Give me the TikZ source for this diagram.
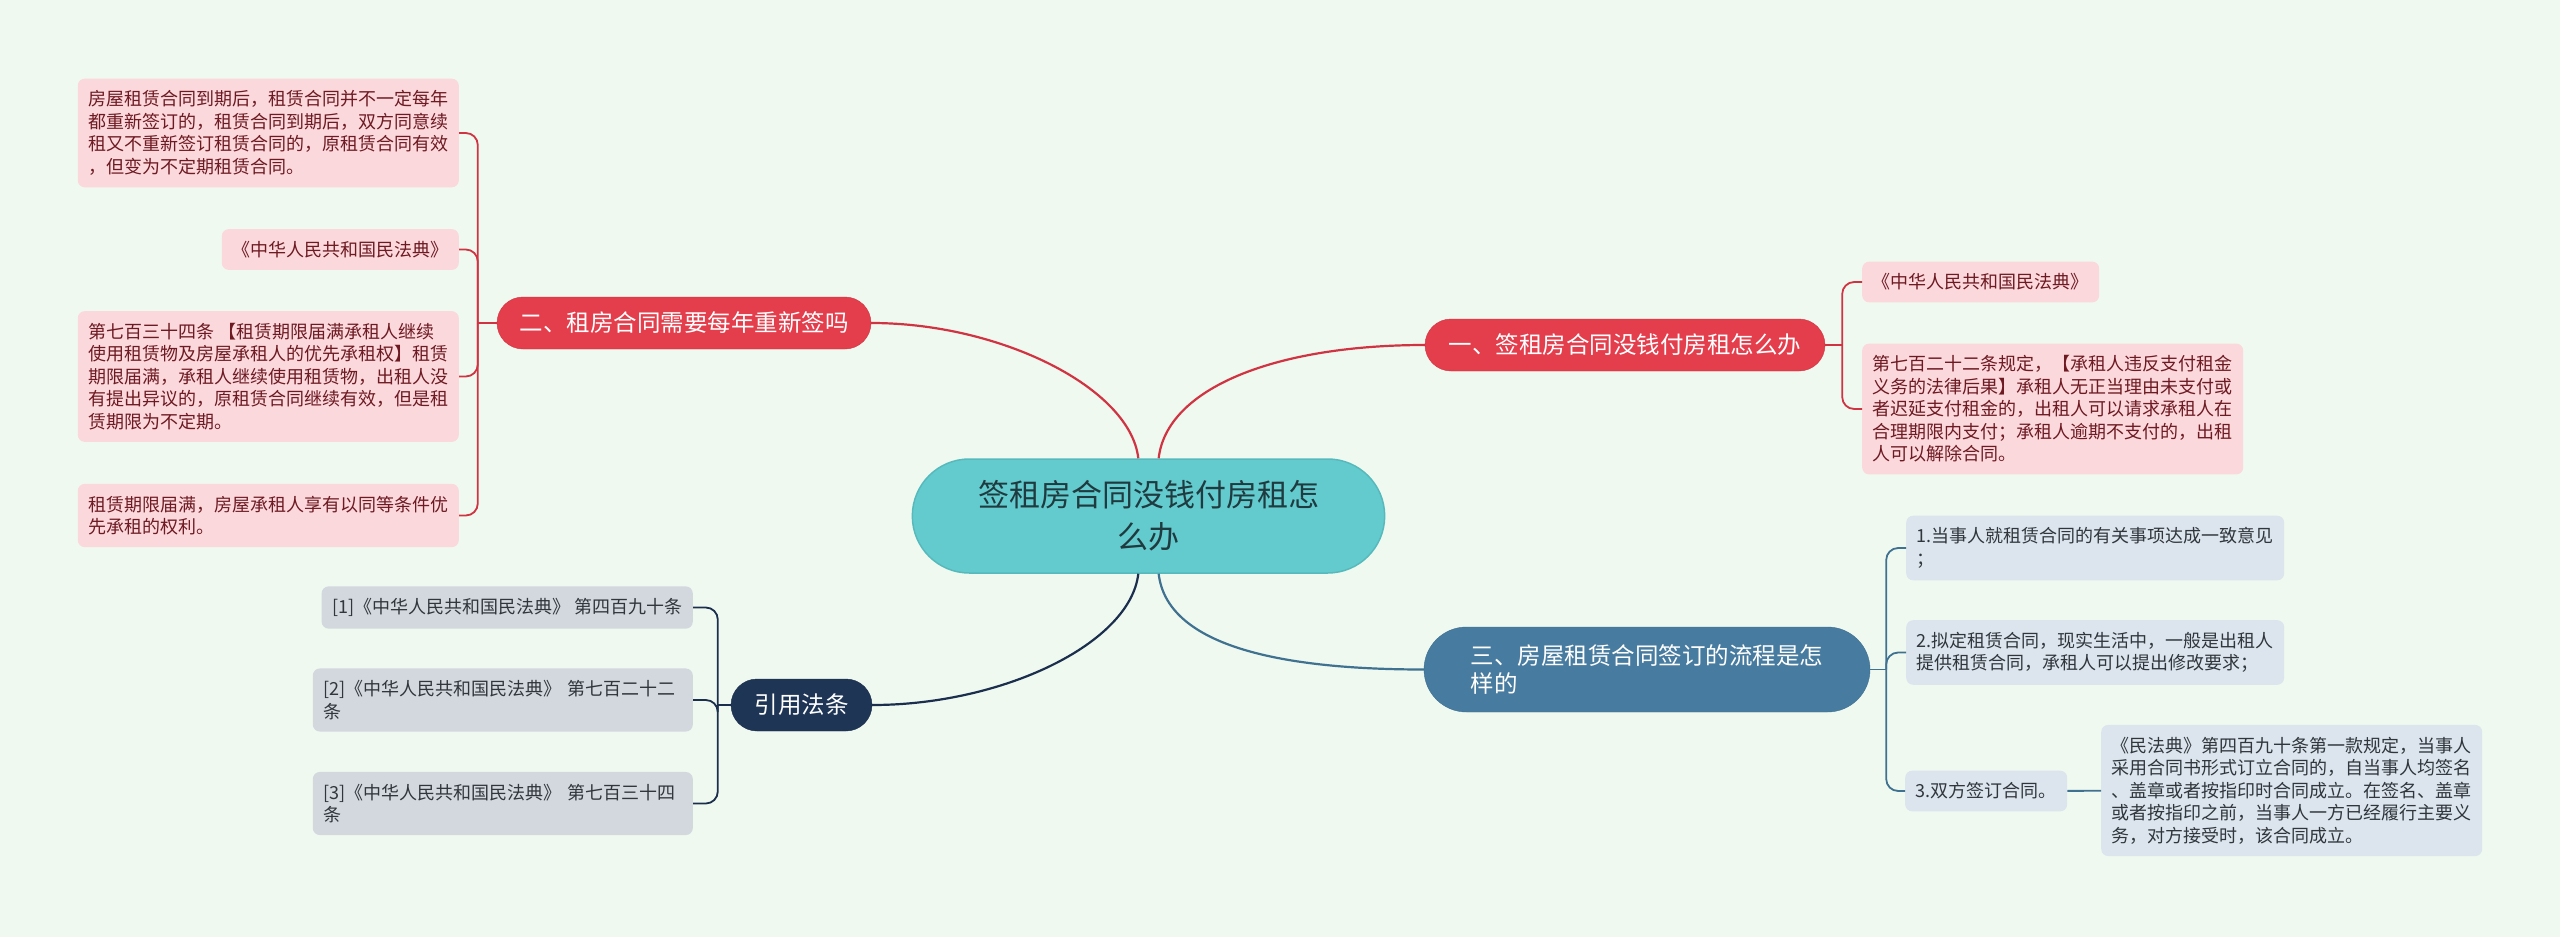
\documentclass[tikz,border=0pt]{standalone}
\usepackage{fontspec}
\setmainfont{Noto Sans CJK SC}
\usepackage{xcolor}
\usepackage{tikz}
\usetikzlibrary{positioning,calc,shapes.misc}

\definecolor{bgmint}{HTML}{F0F9EF}
\definecolor{cRed}{HTML}{E43D4B}
\definecolor{cRedLine}{HTML}{D03443}
\definecolor{cPink}{HTML}{FAD8DC}
\definecolor{cPinkText}{HTML}{6E1A22}
\definecolor{cTeal}{HTML}{63CBCE}
\definecolor{cTealEdge}{HTML}{56BABD}
\definecolor{cRootText}{HTML}{1F3B40}
\definecolor{cBlue}{HTML}{477B9F}
\definecolor{cBlueLine}{HTML}{3F7191}
\definecolor{cBlueLeaf}{HTML}{DCE5ED}
\definecolor{cNavy}{HTML}{1E3556}
\definecolor{cNavyLine}{HTML}{1B2E4E}
\definecolor{cGrayLeaf}{HTML}{D3D8DF}
\definecolor{cLeafText}{HTML}{30363C}

\begin{document}
\begin{tikzpicture}[
    x=1pt, y=-1pt,
    rootbox/.style={rounded rectangle, fill=cTeal, draw=cTealEdge, line width=1.5pt, text=cRootText, font=\fontsize{31pt}{42pt}\selectfont, align=center, minimum width=479pt, minimum height=114pt},
    pill/.style={rounded rectangle, text=white, font=\fontsize{23.5pt}{28pt}\selectfont, inner xsep=2pt, minimum height=52pt},
    pillred/.style={pill, fill=cRed, draw=cRedLine},
    pillblue/.style={pill, fill=cBlue, draw=cBlueLine},
    pillnavy/.style={pill, fill=cNavy, draw=cNavyLine},
    leaf/.style={rounded corners=7pt, font=\fontsize{18pt}{22.5pt}\selectfont, align=left, inner xsep=10.5pt, inner ysep=12pt},
    leafpink/.style={leaf, fill=cPink, text=cPinkText},
    leafblue/.style={leaf, fill=cBlueLeaf, text=cLeafText},
    leafgray/.style={leaf, fill=cGrayLeaf, text=cLeafText},
    redline/.style={draw=cRedLine, line width=2.2pt},
    blueline/.style={draw=cBlueLine, line width=2.2pt},
    navyline/.style={draw=cNavyLine, line width=2.2pt},
    twig/.style={line width=1.8pt, rounded corners=12pt}
]
\fill[bgmint] (0,0) rectangle (2560,937);

\node[rootbox] (root) at (1148.5,516) {签租房合同没钱付房租怎\\么办};
\node[pillred, minimum width=378pt] (b2) at (684,323) {二、租房合同需要每年重新签吗};
\node[pillred, minimum width=404pt] (b1) at (1625,345) {一、签租房合同没钱付房租怎么办};
\node[pillblue, minimum width=450pt, minimum height=85pt, align=left] (b3) at (1647,669.5) {三、房屋租赁合同签订的流程是怎\\样的};
\node[pillnavy, minimum width=145pt] (bref) at (801.5,705) {引用法条};

\node[leafpink, anchor=east] (p1) at (459,133) {房屋租赁合同到期后，租赁合同并不一定每年\\都重新签订的，租赁合同到期后，双方同意续\\租又不重新签订租赁合同的，原租赁合同有效\\，但变为不定期租赁合同。};
\node[leafpink, anchor=east] (p2) at (459,249.5) {《中华人民共和国民法典》};
\node[leafpink, anchor=east] (p3) at (459,376.5) {第七百三十四条 【租赁期限届满承租人继续\\使用租赁物及房屋承租人的优先承租权】租赁\\期限届满，承租人继续使用租赁物，出租人没\\有提出异议的，原租赁合同继续有效，但是租\\赁期限为不定期。};
\node[leafpink, anchor=east] (p4) at (459,515.5) {租赁期限届满，房屋承租人享有以同等条件优\\先承租的权利。};

\node[leafpink, anchor=west] (q1) at (1862,282) {《中华人民共和国民法典》};
\node[leafpink, anchor=west] (q2) at (1862,409) {第七百二十二条规定，【承租人违反支付租金\\义务的法律后果】承租人无正当理由未支付或\\者迟延支付租金的，出租人可以请求承租人在\\合理期限内支付；承租人逾期不支付的，出租\\人可以解除合同。};

\node[leafblue, anchor=west] (s1) at (1906,548) {1.当事人就租赁合同的有关事项达成一致意见\\；};
\node[leafblue, anchor=west] (s2) at (1906,652.5) {2.拟定租赁合同，现实生活中，一般是出租人\\提供租赁合同，承租人可以提出修改要求；};
\node[leafblue, anchor=west] (s3) at (1905,791) {3.双方签订合同。};
\node[leafblue, anchor=west] (s4) at (2101,790.5) {《民法典》第四百九十条第一款规定，当事人\\采用合同书形式订立合同的，自当事人均签名\\、盖章或者按指印时合同成立。在签名、盖章\\或者按指印之前，当事人一方已经履行主要义\\务，对方接受时，该合同成立。};

\node[leafgray, anchor=east] (r1) at (693,607.5) {[1]《中华人民共和国民法典》 第四百九十条};
\node[leafgray, anchor=east, text width=359pt] (r2) at (693,700) {[2]《中华人民共和国民法典》 第七百二十二\\条};
\node[leafgray, anchor=east, text width=359pt] (r3) at (693,803.5) {[3]《中华人民共和国民法典》 第七百三十四\\条};

\draw[redline] (root.100) .. controls +(-8,-70) and +(130,0) .. (b2.east);
\draw[redline] (root.80) .. controls +(8,-70) and +(-150,0) .. (b1.west);
\draw[navyline] (root.260) .. controls +(-8,70) and +(130,0) .. (bref.east);
\draw[blueline] (root.280) .. controls +(8,70) and +(-150,0) .. (b3.west);

\coordinate (j2) at ($(b2.west)+(-19,0)$);
\coordinate (j1) at ($(b1.east)+(17,0)$);
\coordinate (j3) at ($(b3.east)+(16,0)$);
\coordinate (jref) at ($(bref.west)+(-13,0)$);

\draw[redline, twig] (b2.west) -- (j2);
\foreach \n in {p1,p2,p3,p4}
    \draw[redline, twig] (j2) |- (\n.east);
\draw[redline, twig] (b1.east) -- (j1);
\foreach \n in {q1,q2}
    \draw[redline, twig] (j1) |- (\n.west);
\draw[blueline, twig] (b3.east) -- (j3);
\foreach \n in {s1,s2,s3}
    \draw[blueline, twig] (j3) |- (\n.west);
\draw[blueline, twig] (s3) -- (s4);
\draw[navyline, twig] (bref.west) -- (jref);
\foreach \n in {r1,r2,r3}
    \draw[navyline, twig] (jref) |- (\n.east);
\end{tikzpicture}
\end{document}
